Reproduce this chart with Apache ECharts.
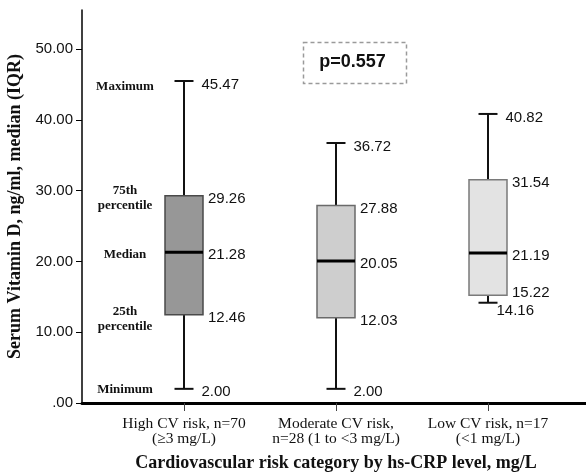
<!DOCTYPE html>
<html><head><meta charset="utf-8">
<script src="https://cdn.jsdelivr.net/npm/echarts@6/dist/echarts.min.js"></script>
<style>html,body{margin:0;padding:0;background:#fff}#c{width:586px;height:474px}</style>
</head><body><div id="c"></div>
<script>
var categories = ['High CV risk, n=70\n(\u22653 mg/L)', 'Moderate CV risk,\nn=28 (1 to <3 mg/L)', 'Low CV risk, n=17\n(<1 mg/L)'];
var minimum = [2.00, 2.00, 14.16];
var q1 = [12.46, 12.03, 15.22];
var median = [21.28, 20.05, 21.19];
var q3 = [29.26, 27.88, 31.54];
var maximum = [45.47, 36.72, 40.82];
var yTicks = [0, 10, 20, 30, 40, 50];
var roleLabels = ['Minimum', '25th\npercentile', 'Median', '75th\npercentile', 'Maximum'];
var pValue = 'p=0.557';
var yTitle = 'Serum Vitamin D, ng/ml, median (IQR)';
var xTitle = 'Cardiovascular risk category by hs-CRP level, mg/L';

var boxFill = ['#979797', '#cecece', '#e3e3e3'];
var boxStroke = ['#4a4a4a', '#6a6a6a', '#7a7a7a'];

var data = categories.map(function (c, i) { return [i, minimum[i], q1[i], median[i], q3[i], maximum[i]]; });
function fmt(v) { return v === 0 ? '.00' : v.toFixed(2); }

var numFont = '15px "Liberation Sans", Arial, sans-serif';
var serifBold = 'bold 13px "Liberation Serif", "Times New Roman", serif';

function renderItem(params, api) {
  var idx = api.value(0);
  var cx = api.coord([idx, 0])[0];
  function Y(v) { return api.coord([idx, v])[1]; }
  var vals = [api.value(1), api.value(2), api.value(3), api.value(4), api.value(5)];
  var yMin = Y(vals[0]), yQ1 = Y(vals[1]), yMed = Y(vals[2]), yQ3 = Y(vals[3]), yMax = Y(vals[4]);
  var hb = 19, hc = 9.5;
  var lineStyle = { stroke: '#111', lineWidth: 2 };
  var ch = [
    { type: 'line', shape: { x1: cx, y1: yQ3, x2: cx, y2: yMax }, style: lineStyle },
    { type: 'line', shape: { x1: cx, y1: yQ1, x2: cx, y2: yMin }, style: lineStyle },
    { type: 'line', shape: { x1: cx - hc, y1: yMax, x2: cx + hc, y2: yMax }, style: lineStyle },
    { type: 'line', shape: { x1: cx - hc, y1: yMin, x2: cx + hc, y2: yMin }, style: lineStyle },
    { type: 'rect', shape: { x: cx - hb, y: yQ3, width: 2 * hb, height: yQ1 - yQ3 }, style: { fill: boxFill[idx], stroke: boxStroke[idx], lineWidth: 1.5 } },
    { type: 'line', shape: { x1: cx - hb, y1: yMed, x2: cx + hb, y2: yMed }, style: { stroke: '#000', lineWidth: 3 } }
  ];
  var lx = [cx + hc + 8, cx + hb + 5, cx + hb + 5, cx + hb + 5, cx + hc + 8];
  var ly = [yMin + 3, yQ1 + 3, yMed + 3, yQ3 + 3, yMax + 4];
  if (idx === 2) { ly[0] = yMin + 8; lx[0] = cx + hc - 1; ly[1] = yQ1 - 2; }
  for (var k = 0; k < 5; k++) {
    ch.push({ type: 'text', style: { text: fmt(vals[k]), x: lx[k], y: ly[k], font: numFont, fill: '#111', textAlign: 'left', textVerticalAlign: 'middle' } });
  }
  if (idx === 0) {
    var ry = [yMin + 1, yQ1 + 4, yMed + 2, yQ3 + 2, yMax + 6];
    for (var r = 0; r < 5; r++) {
      ch.push({ type: 'text', style: { text: roleLabels[r], x: cx - 59, y: ry[r], font: serifBold, fill: '#111', textAlign: 'center', textVerticalAlign: 'middle', lineHeight: 15 } });
    }
  }
  return { type: 'group', children: ch };
}

var chart = echarts.init(document.getElementById('c'), null, { renderer: 'canvas' });
var yMaxAxis = 55.5;
chart.setOption({
  backgroundColor: '#fff',
  animation: false,
  grid: [
    { left: 82, right: 0, top: 10, bottom: 71, containLabel: false, outerBoundsMode: 'none' },
    { left: 108, right: 22, top: 10, bottom: 71, containLabel: false, outerBoundsMode: 'none' }
  ],
  xAxis: [
    { gridIndex: 0, type: 'value', min: 0, max: 1, axisLine: { show: true, lineStyle: { color: '#000', width: 3 } }, axisTick: { show: false }, axisLabel: { show: false }, splitLine: { show: false } },
    { gridIndex: 1, type: 'category', data: categories, boundaryGap: true,
      axisLine: { show: false },
      axisTick: { show: true, alignWithLabel: true, length: 8, lineStyle: { color: '#444', width: 1 } },
      axisLabel: { margin: 13, fontFamily: '"Liberation Serif", "Times New Roman", serif', fontSize: 15.5, color: '#111', lineHeight: 15.5, interval: 0 },
      name: xTitle, nameLocation: 'middle', nameGap: 51,
      nameTextStyle: { fontFamily: '"Liberation Serif", "Times New Roman", serif', fontWeight: 'bold', fontSize: 18, color: '#111' }
    }
  ],
  yAxis: [
    { gridIndex: 0, type: 'value', min: 0, max: yMaxAxis, interval: 10,
      axisLine: { show: true, lineStyle: { color: '#000', width: 1.5 } },
      axisTick: { show: true, length: 6, customValues: yTicks, lineStyle: { color: '#000', width: 1 } },
      axisLabel: { customValues: yTicks, formatter: function (v) { return yTicks.indexOf(v) >= 0 ? fmt(v) : ''; }, fontFamily: '"Liberation Sans", Arial, sans-serif', fontSize: 15, color: '#111', margin: 9 },
      splitLine: { show: false },
      name: yTitle, nameLocation: 'middle', nameRotate: 90, nameGap: 48,
      nameTextStyle: { fontFamily: '"Liberation Serif", "Times New Roman", serif', fontWeight: 'bold', fontSize: 18, color: '#111' }
    },
    { gridIndex: 1, type: 'value', min: 0, max: yMaxAxis, show: false, splitLine: { show: false } }
  ],
  graphic: [
    { type: 'rect', left: 301, top: 40, shape: { width: 103, height: 41 }, style: { fill: 'none', stroke: '#9a9a9a', lineWidth: 1.5, lineDash: [4, 3] } },
    { type: 'text', x: 352.5, y: 62, style: { text: pValue, font: 'bold 18px "Liberation Sans", Arial, sans-serif', fill: '#111', textAlign: 'center', textVerticalAlign: 'middle' } }
  ],
  series: [{
    type: 'custom', xAxisIndex: 1, yAxisIndex: 1, data: data,
    encode: { x: 0, y: [1, 2, 3, 4, 5] }, renderItem: renderItem, clip: false
  }]
});
</script></body></html>
